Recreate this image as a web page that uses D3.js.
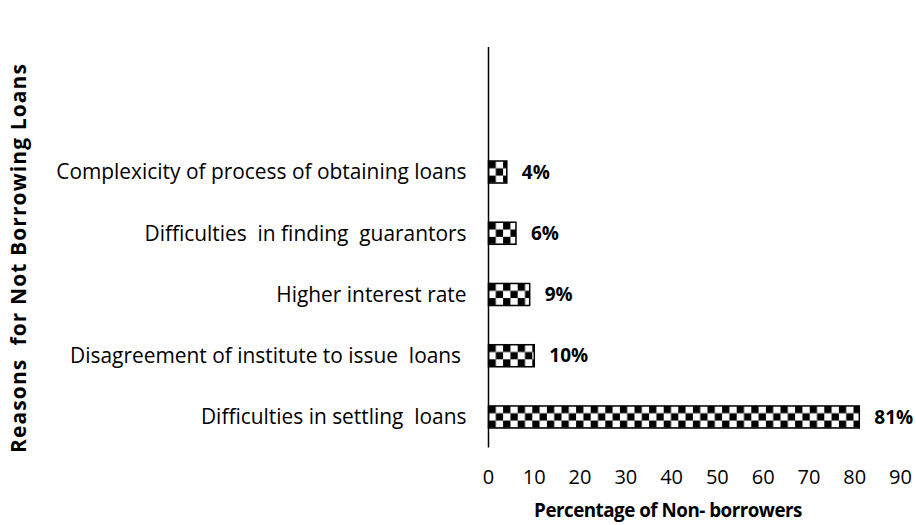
<!DOCTYPE html>
<html><head><meta charset="utf-8">
<script src="https://cdn.jsdelivr.net/npm/d3@7"></script>
<style>body{margin:0;background:#fff}svg{display:block}text{font-family:"Open Sans",Lato,sans-serif;fill:#000;white-space:pre}</style>
</head><body><svg id="c" width="916" height="525"></svg>
<script>
const categories = ["Difficulties in settling  loans","Disagreement of institute to issue  loans ","Higher interest rate","Difficulties  in finding  guarantors","Complexicity of process of obtaining loans"];
const values = [81, 10, 9, 6, 4];
const valueLabels = ["81%","10%","9%","6%","4%"];
const xTicks = [0,10,20,30,40,50,60,70,80,90];
const xTitle = "Percentage of Non- borrowers";
const yTitle = "Reasons  for Not Borrowing Loans";

const svg = d3.select("#c");
const x = d3.scaleLinear().domain([0,90]).range([488.5, 900.5]);
const y = d3.scaleBand().domain(categories).range([447.6, 141.4]).paddingInner(0.64).paddingOuter(0.32);

const defs = svg.append("defs");
const s = 7.3;
categories.forEach((c,i)=>{
  const by = y(c);
  const p = defs.append("pattern").attr("id","chk"+i).attr("patternUnits","userSpaceOnUse")
    .attr("width",2*s).attr("height",2*s).attr("x",x(0)).attr("y",by);
  p.append("rect").attr("width",2*s).attr("height",2*s).attr("fill","#fff");
  p.append("rect").attr("width",s).attr("height",s).attr("fill","#000");
  p.append("rect").attr("x",s).attr("y",s).attr("width",s).attr("height",s).attr("fill","#000");
});
const g = svg.append("g");
g.selectAll("rect.bar").data(values).join("rect").attr("class","bar")
  .attr("x", x(0)).attr("y",(d,i)=>y(categories[i]))
  .attr("width", d=>x(d)-x(0)).attr("height", y.bandwidth())
  .attr("fill",(d,i)=>`url(#chk${i})`).attr("stroke","#000").attr("stroke-width",1.5);

g.selectAll("text.val").data(values).join("text").attr("class","val")
  .attr("x", d=>x(d)+15).attr("y",(d,i)=>y(categories[i])+y.bandwidth()/2)
  .attr("dy","0.35em").attr("font-weight","bold").attr("font-size",19)
  .text((d,i)=>valueLabels[i]);

g.selectAll("text.cat").data(categories).join("text").attr("class","cat")
  .attr("x", x(0)-22).attr("y", d=>y(d)+y.bandwidth()/2).attr("dy","0.35em")
  .attr("text-anchor","end").attr("font-size",20.9).text(d=>d);

svg.append("line").attr("x1",x(0)).attr("x2",x(0)).attr("y1",47).attr("y2",447.6)
  .attr("stroke","#000").attr("stroke-width",1.5);

svg.selectAll("text.xt").data(xTicks).join("text").attr("class","xt")
  .attr("x", d=>x(d)).attr("y",477).attr("dy","0.35em").attr("text-anchor","middle")
  .attr("font-size",20).text(d=>d);

svg.append("text").attr("x",668).attr("y",510).attr("dy","0.35em")
  .attr("text-anchor","middle").attr("font-weight","bold").attr("font-size",18.8)
  .attr("letter-spacing",-0.5).text(xTitle);
svg.append("text").attr("transform","translate(19,258) rotate(-90)").attr("dy","0.35em")
  .attr("text-anchor","middle").attr("font-weight","bold").attr("font-size",21)
  .attr("letter-spacing",1.1).text(yTitle);
</script></body></html>
